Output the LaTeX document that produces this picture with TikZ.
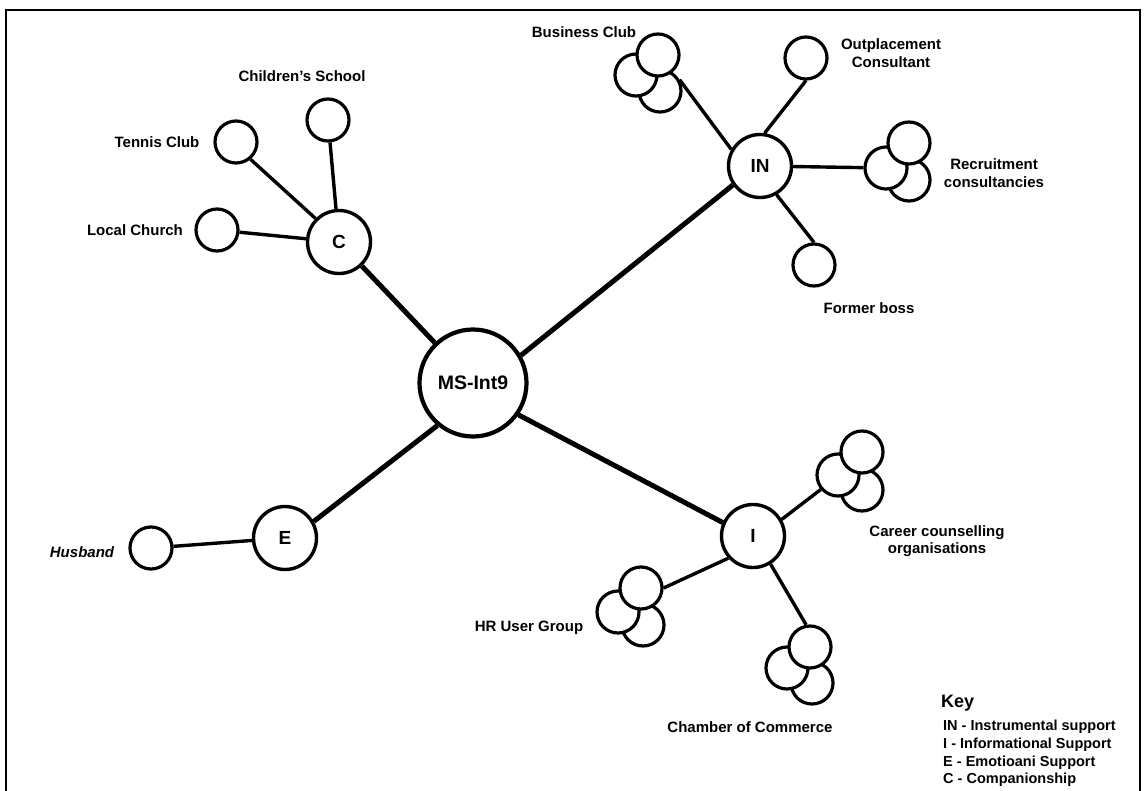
\documentclass[tikz,border=0pt]{standalone}
\usepackage{fontspec}
\setmainfont{Liberation Sans}
\begin{document}
\begin{tikzpicture}[x=1pt,y=-1pt,
  lbl/.style={font=\bfseries\fontsize{15}{17.5}\selectfont, align=center, inner sep=0pt},
  keyline/.style={font=\bfseries\fontsize{14.5}{16}\selectfont, anchor=west, inner sep=0pt},
  hub/.style={circle, draw, line width=3.4pt, minimum size=63pt, inner sep=0pt, fill=white, font=\bfseries\fontsize{19}{20}\selectfont},
  centre/.style={circle, draw, line width=4.2pt, minimum size=107pt, inner sep=0pt, fill=white, font=\bfseries\fontsize{19.5}{22}\selectfont},
  leaf/.style={circle, draw, line width=3.2pt, minimum size=42pt, inner sep=0pt, fill=white},
  spoke/.style={line width=3.4pt},
  mainspoke/.style={line width=5pt},
  frameline/.style={line width=2.8pt}]
\useasboundingbox (0,0) rectangle (1147,791);

% frame
\coordinate (f1) at (6,795);
\coordinate (f2) at (6,10);
\coordinate (f3) at (1140,10);
\coordinate (f4) at (1140,795);
\draw[frameline] (f1) -- (f2) -- (f3) -- (f4);

% main nodes
\node[centre] (MS) at (473,383) {MS-Int9};
\node[hub] (C) at (339,242) {C};
\node[hub] (IN) at (760,166) {IN};
\node[hub] (E) at (285,538) {E};
\node[hub] (I) at (753,536) {I};

% single leaves
\node[leaf] (cs) at (328,120) {};
\node[leaf] (tc) at (236,142) {};
\node[leaf] (lc) at (217,230) {};
\node[leaf] (op) at (806,58) {};
\node[leaf] (fb) at (814,265) {};
\node[leaf] (hu) at (151,548) {};

% clusters: bottom, left, top
\node[leaf] (bcB) at (660,91) {};
\node[leaf] (bcL) at (636,75) {};
\node[leaf] (bcT) at (658,55) {};

\node[leaf] (rcB) at (909,180) {};
\node[leaf] (rcL) at (886,168) {};
\node[leaf] (rcT) at (909,143) {};

\node[leaf] (ccB) at (862,490) {};
\node[leaf] (ccL) at (838,475) {};
\node[leaf] (ccT) at (862,452) {};

\node[leaf] (hrB) at (643,625) {};
\node[leaf] (hrL) at (618,612) {};
\node[leaf] (hrT) at (641,588) {};

\node[leaf] (chB) at (812,683) {};
\node[leaf] (chL) at (787,668) {};
\node[leaf] (chT) at (810,647) {};

% connectors
\draw[mainspoke] (C) -- (MS);
\draw[mainspoke] (MS.30) -- (IN.215);
\draw[mainspoke] (E.30) -- (MS.230);
\draw[mainspoke] (MS.-35) -- (I.156);

\draw[spoke] (cs) -- (C);
\draw[spoke] (tc.-50) -- (C.135);
\draw[spoke] (lc) -- (C);

\draw[spoke] (bcB.30) -- (IN.150);
\draw[spoke] (op.south) -- (IN.82);
\draw[spoke] (IN) -- (rcL);
\draw[spoke] (IN.-60) -- (fb.north);

\draw[spoke] (hu) -- (E);

\draw[spoke] (I.30) -- (ccL.220);
\draw[spoke] (hrT.east) -- (I.222);
\draw[spoke] (I.-58) -- (chT.100);

% labels
\node[lbl] (l1) at (302,76) {Children's School};
\node[lbl] (l2) at (157,142) {Tennis Club};
\node[lbl] (l3) at (135,230) {Local Church};
\node[lbl] (l4) at (584,32) {Business Club};
\node[lbl] (l5) at (891,53) {Outplacement\\Consultant};
\node[lbl] (l6) at (994,173) {Recruitment\\consultancies};
\node[lbl] (l7) at (869,308) {Former boss};
\node[lbl] (l8) at (937,541) {Career counselling\\organisations};
\node[lbl] (l9) at (529,628) {HR User Group};
\node[lbl] (l10) at (750,727) {Chamber of Commerce};
\node[lbl, font=\bfseries\itshape\fontsize{15}{17}\selectfont] (l11) at (82,552) {Husband};

% key
\node[keyline, font=\bfseries\fontsize{18}{20}\selectfont] (k0) at (941,703) {Key};
\node[keyline] (k1) at (943,727) {IN - Instrumental support};
\node[keyline] (k2) at (943,745) {I - Informational Support};
\node[keyline] (k3) at (943,763) {E - Emotioani Support};
\node[keyline] (k4) at (943,780) {C - Companionship};
\end{tikzpicture}
\end{document}
